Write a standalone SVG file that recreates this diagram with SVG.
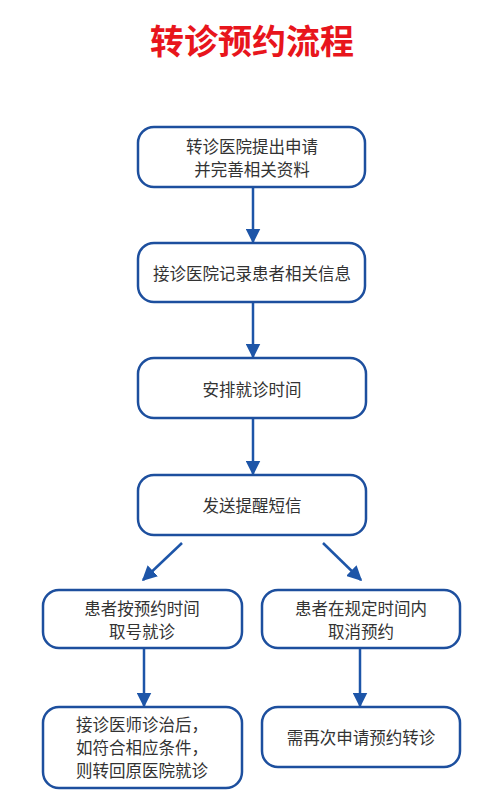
<svg xmlns="http://www.w3.org/2000/svg" width="500" height="801" viewBox="0 0 500 801">
<defs>
<style>
.box{fill:#fff;stroke:#1d4f9e;stroke-width:2.5}
.t{font-family:"Noto Sans CJK SC","Noto Sans",sans-serif;font-size:16.5px;fill:#333;text-anchor:middle;dominant-baseline:central}
.title{font-family:"Noto Sans CJK SC","Noto Sans",sans-serif;font-size:34px;font-weight:bold;fill:#e8151c;text-anchor:middle}
.c{stroke:#1d55a8;stroke-width:2.5;fill:none;marker-end:url(#ah)}
</style>
<marker id="ah" viewBox="0 0 10 10" refX="9" refY="5" markerWidth="6" markerHeight="6" markerUnits="strokeWidth" orient="auto">
<path d="M0,0 L10,5 L0,10 z" fill="#1d55a8"/>
</marker>
</defs>
<rect width="500" height="801" fill="#fff"/>
<text class="title" x="252" y="54">转诊预约流程</text>
<g id="connectors">
<line class="c" x1="253" y1="188" x2="253" y2="242"/>
<line class="c" x1="253" y1="303" x2="253" y2="357"/>
<line class="c" x1="253" y1="419" x2="253" y2="474"/>
<line class="c" x1="182" y1="543" x2="143" y2="580"/>
<line class="c" x1="323" y1="543" x2="361" y2="580"/>
<line class="c" x1="144" y1="649" x2="144" y2="706"/>
<line class="c" x1="360" y1="649" x2="360" y2="706"/>
</g>
<g id="n1"><rect class="box" x="138" y="127" width="227" height="60" rx="16"/>
<text class="t" x="252" y="146">转诊医院提出申请</text><text class="t" x="252" y="169">并完善相关资料</text></g>
<g id="n2"><rect class="box" x="138" y="243" width="227" height="59" rx="16"/>
<text class="t" x="252" y="273">接诊医院记录患者相关信息</text></g>
<g id="n3"><rect class="box" x="138" y="358" width="228" height="60" rx="16"/>
<text class="t" x="252" y="389">安排就诊时间</text></g>
<g id="n4"><rect class="box" x="138" y="475" width="228" height="60" rx="16"/>
<text class="t" x="252" y="505">发送提醒短信</text></g>
<g id="n5"><rect class="box" x="43" y="590" width="199" height="58" rx="16"/>
<text class="t" x="142" y="608">患者按预约时间</text><text class="t" x="142" y="631">取号就诊</text></g>
<g id="n6"><rect class="box" x="262" y="590" width="198" height="58" rx="16"/>
<text class="t" x="361" y="608">患者在规定时间内</text><text class="t" x="361" y="631">取消预约</text></g>
<g id="n7"><rect class="box" x="43" y="707" width="199" height="81" rx="16"/>
<text class="t" x="142" y="724">接诊医师诊治后，</text><text class="t" x="142" y="747">如符合相应条件，</text><text class="t" x="142" y="770">则转回原医院就诊</text></g>
<g id="n8"><rect class="box" x="262" y="707" width="198" height="60" rx="16"/>
<text class="t" x="361" y="737">需再次申请预约转诊</text></g>
</svg>
